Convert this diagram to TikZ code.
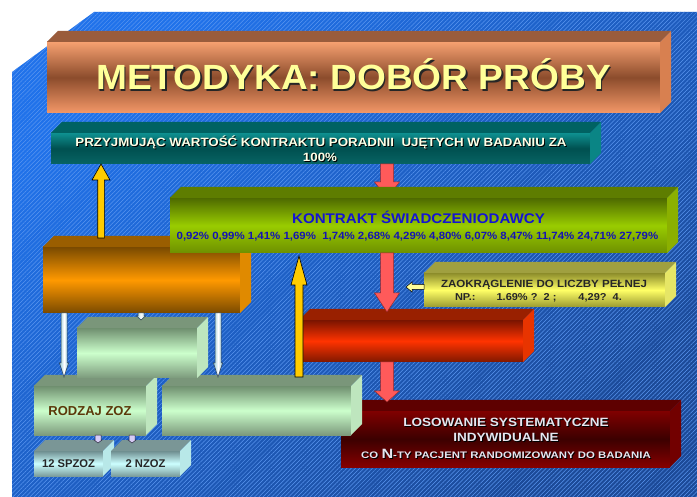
\documentclass[tikz,border=0pt]{standalone}
\usepackage{fontspec}
\setmainfont{Liberation Sans}
\usetikzlibrary{calc,fit,patterns.meta}
\definecolor{bgblue}{HTML}{2072EA}
\definecolor{bgdark}{HTML}{1C4A98}
\definecolor{hatch}{HTML}{5A96F0}
\definecolor{titleyel}{HTML}{FFFF99}
% title
\definecolor{tiTop}{HTML}{9A5C3C}\definecolor{tiSide}{HTML}{D88050}
\definecolor{tiA}{HTML}{F6A070}\definecolor{tiB}{HTML}{F49868}\definecolor{tiM}{HTML}{8C4C2C}
% teal
\definecolor{teTop}{HTML}{006262}\definecolor{teSide}{HTML}{0A8585}
\definecolor{teA}{HTML}{0E9090}\definecolor{teB}{HTML}{086464}\definecolor{teM}{HTML}{005050}
% orange
\definecolor{orTop}{HTML}{9A5E00}\definecolor{orSide}{HTML}{E08A00}
\definecolor{orA}{HTML}{7A4A00}\definecolor{orM}{HTML}{FF9900}
% green
\definecolor{grTop}{HTML}{5E7D00}\definecolor{grSide}{HTML}{8BB000}
\definecolor{grA}{HTML}{4E6A00}\definecolor{grB}{HTML}{6E9000}\definecolor{grM}{HTML}{99CC00}
% yellow
\definecolor{yeTop}{HTML}{A0A040}\definecolor{yeSide}{HTML}{E6E666}
\definecolor{yeA}{HTML}{8C8C2A}\definecolor{yeB}{HTML}{9A9A30}\definecolor{yeM}{HTML}{FFFF66}
% red
\definecolor{reTop}{HTML}{992000}\definecolor{reSide}{HTML}{E83400}
\definecolor{reA}{HTML}{7A1400}\definecolor{reB}{HTML}{801800}\definecolor{reM}{HTML}{FF3300}
% dark red
\definecolor{drTop}{HTML}{5E0000}\definecolor{drSide}{HTML}{720000}
\definecolor{drA}{HTML}{800000}\definecolor{drB}{HTML}{850000}\definecolor{drM}{HTML}{3C0000}
% light green
\definecolor{lgTop}{HTML}{7A967A}\definecolor{lgSide}{HTML}{BEE6BE}
\definecolor{lgA}{HTML}{6F8F6F}\definecolor{lgB}{HTML}{7C9A7C}\definecolor{lgM}{HTML}{CCFFCC}
% cyan small
\definecolor{cyTop}{HTML}{7A9696}\definecolor{cySide}{HTML}{B8E8E8}
\definecolor{cyA}{HTML}{6E8E90}\definecolor{cyB}{HTML}{7A9C9C}\definecolor{cyM}{HTML}{CCFFFF}
% texts and arrows
\definecolor{paleT}{HTML}{FFFFE6}
\definecolor{losT}{HTML}{E6E6F0}
\definecolor{kBlue}{HTML}{1414D2}
\definecolor{pBlue}{HTML}{1414B4}
\definecolor{rodzC}{HTML}{5C380A}
\definecolor{arY}{HTML}{FFCC00}
\definecolor{arR}{HTML}{FF5A5A}
\definecolor{arRd}{HTML}{962828}
\definecolor{arW}{HTML}{96C8D7}
\definecolor{arWd}{HTML}{283C50}
\definecolor{arL}{HTML}{D7CDF5}
\definecolor{arLd}{HTML}{28283C}
% text with a drop shadow, in one box
\newcommand\shd[3]{\makebox[0pt][l]{\hspace{#2}\raisebox{-#2}{\textcolor{#1}{#3}}}#3}
\newcommand\slab[6]{%
  \node[fit={(#2) (#3)}, inner sep=0pt, outer sep=0pt, #6] (#1) {};
  \fill[#4] (#1.north west) -- ++(11,-11) -- ([shift={(11,-11)}]#1.north east) -- (#1.north east) -- cycle;
  \fill[#5] (#1.north east) -- ++(11,-11) -- ([shift={(11,-11)}]#1.south east) -- (#1.south east) -- cycle;
}
\newcommand\vfat[6]{%
  \path[#6] let \p1=(#1), \p2=(#2), \n1={ifthenelse(\y2>\y1,1,-1)} in
   ({\x1-#3pt},\y1) -- ({\x1-#3pt},{\y2-\n1*#5pt}) -- ({\x1-#4pt},{\y2-\n1*#5pt}) -- (\x1,\y2)
   -- ({\x1+#4pt},{\y2-\n1*#5pt}) -- ({\x1+#3pt},{\y2-\n1*#5pt}) -- ({\x1+#3pt},\y1) -- cycle;}
\newcommand\hfat[6]{%
  \path[#6] let \p1=(#1), \p2=(#2), \n1={ifthenelse(\x2>\x1,1,-1)} in
   (\x1,{\y1-#3pt}) -- ({\x2-\n1*#5pt},{\y1-#3pt}) -- ({\x2-\n1*#5pt},{\y1-#4pt}) -- (\x2,\y1)
   -- ({\x2-\n1*#5pt},{\y1+#4pt}) -- ({\x2-\n1*#5pt},{\y1+#3pt}) -- (\x1,{\y1+#3pt}) -- cycle;}
\tikzset{
  txt/.style={inner sep=0pt, outer sep=0pt, anchor=base},
  fs/.style n args={2}{font=\bfseries\fontsize{#1}{#1}\selectfont\addfontfeatures{FakeStretch=#2}},
  yarrow/.style={fill=arY, draw=black, line width=0.6pt},
  rarrow/.style={fill=arR, draw=arRd, line width=0.5pt},
  warrow/.style={left color=arW, right color=arW, middle color=white, draw=arWd, line width=0.5pt},
  larrow/.style={fill=arL, draw=arLd, line width=0.5pt},
  harrow/.style={fill=titleyel, draw=black, line width=0.5pt},
  lgface/.style={top color=lgA, bottom color=lgB, middle color=lgM},
  cyface/.style={top color=cyA, bottom color=cyB, middle color=cyM},
}
\begin{document}
\begin{tikzpicture}[x=1pt,y=-1pt]
\fill[white] (0,0) rectangle (697,497);
\useasboundingbox (0,0) rectangle (697,497);
% blue background with fine hatching
\path[top color=bgblue, middle color=bgblue, bottom color=bgdark, shading angle=40,
      postaction={pattern={Lines[angle=45,distance=3pt,line width=0.5pt]}, pattern color=hatch}]
  (94,12) -- (697,12) -- (697,497) -- (12,497) -- (12,72) -- cycle;

% title
\slab{title}{47,42}{660,113}{tiTop}{tiSide}{top color=tiA, bottom color=tiB, middle color=tiM}
\node[txt, fs={35}{1.06}, text=titleyel] (ttl) at (353.5,90) {\shd{black!85}{1.5pt}{METODYKA: DOBÓR PRÓBY}};

% teal
\slab{teal}{51,133}{590,164}{teTop}{teSide}{top color=teA, bottom color=teB, middle color=teM}
\node[txt, fs={12}{1.11}, text=paleT] (tealT1) at (321,147) {\shd{black}{1pt}{PRZYJMUJĄC WARTOŚĆ KONTRAKTU PORADNII\ \ UJĘTYCH W BADANIU ZA}};
\node[txt, fs={12}{1.11}, text=paleT] (tealT2) at (320,162) {\shd{black}{1pt}{100\%}};

% red arrow teal -> green (tip hidden by green)
\vfat{[xshift=336pt]teal.south west}{[xshift=336pt,yshift=-34pt]teal.south west}{6.5}{12.5}{16}{rarrow}

% orange
\slab{orange}{43,247}{240,313}{orTop}{orSide}{top color=orA, bottom color=orA, middle color=orM}

% green
\slab{green}{170,198}{667,253}{grTop}{grSide}{top color=grA, bottom color=grB, middle color=grM}
\node[txt, fs={14}{1.08}, text=kBlue] (kontr) at (418.5,223.5) {KONTRAKT ŚWIADCZENIODAWCY};
\node[txt, fs={10.5}{1.09}, text=pBlue] (perc) at (417.5,240) {0,92\% 0,99\% 1,41\% 1,69\%\ \ 1,74\% 2,68\% 4,29\% 4,80\% 6,07\% 8,47\% 11,74\% 24,71\% 27,79\%};

% yellow arrow orange -> teal
\vfat{[xshift=58pt,yshift=9pt]orange.north west}{[xshift=50pt]teal.south west}{3.3}{9}{16}{yarrow}

% yellow note box
\slab{note}{424,273}{665,307}{yeTop}{yeSide}{top color=yeA, bottom color=yeB, middle color=yeM}
\node[txt, fs={10.5}{1.1}, text=black!85] (noteA) at (544,288) {ZAOKRĄGLENIE DO LICZBY PEŁNEJ};
\node[txt, fs={10}{1.1}, anchor=base west, text=black!85] (noteB) at (455,301) {NP.:\hspace{21pt}1.69\% ?\ \ 2 ;\hspace{22pt}4,29?\ \ 4.};
\hfat{[yshift=-14pt]note.north west}{[xshift=-18pt,yshift=-14pt]note.north west}{2.5}{5}{6}{harrow}

% red box
\slab{redb}{299,320}{523,362}{reTop}{reSide}{top color=reA, bottom color=reB, middle color=reM}
\vfat{[xshift=217pt]green.south west}{[xshift=88pt,yshift=8pt]redb.north west}{6.5}{12.5}{19}{rarrow}

% dark red box
\slab{dred}{341,411}{670,467}{drTop}{drSide}{top color=drA, bottom color=drB, middle color=drM}
\node[txt, fs={12}{1.13}, text=losT] (los1) at (506,426.5) {\shd{black}{1pt}{LOSOWANIE SYSTEMATYCZNE}};
\node[txt, fs={12}{1.13}, text=losT] (los2) at (506,441.5) {\shd{black}{1pt}{INDYWIDUALNE}};
\node[txt, fs={9.5}{1.2}, text=losT] (los3) at (506,458) {\shd{black}{1pt}{CO {\fontsize{13.5}{13.5}\selectfont N}-TY PACJENT RANDOMIZOWANY DO BADANIA}};
\vfat{[xshift=88pt]redb.south west}{[xshift=46pt,yshift=9pt]dred.north west}{6.5}{12.5}{11}{rarrow}

% RODZAJ ZOZ
\slab{rodzaj}{34,386}{146,435}{lgTop}{lgSide}{lgface}
\node[txt, fs={13}{1}, text=rodzC] (rodzT) at (90,415) {RODZAJ ZOZ};

% second light-green box
\slab{gbox}{162,386}{351,435}{lgTop}{lgSide}{lgface}

% first light-green box
\slab{lgreen}{77,328}{197,378}{lgTop}{lgSide}{lgface}

% white arrows
\vfat{[xshift=21pt]orange.south west}{[xshift=30pt,yshift=9pt]rodzaj.north west}{3}{4.5}{14}{warrow}
\vfat{[xshift=98pt]orange.south west}{[xshift=64pt,yshift=8pt]lgreen.north west}{3}{4.5}{4}{warrow}
\vfat{[xshift=175pt]orange.south west}{[xshift=56pt,yshift=9pt]gbox.north west}{3}{4.5}{14}{warrow}

% yellow arrow gbox -> green
\vfat{[xshift=137pt,yshift=9pt]gbox.north west}{[xshift=129pt,yshift=-3pt]green.south west}{4}{8}{29}{yarrow}

% small boxes
\slab{spzoz}{34,451}{103,476}{cyTop}{cySide}{cyface}
\slab{nzoz}{111,451}{180,476}{cyTop}{cySide}{cyface}
\node[txt, fs={11.2}{1}, text=black!85] (spzT) at (68.5,467.5) {12 SPZOZ};
\node[txt, fs={11.2}{1}, text=black!85] (nzT) at (145.5,467.5) {2 NZOZ};

% lavender arrows
\vfat{[xshift=64pt]rodzaj.south west}{[xshift=64pt,yshift=8pt]spzoz.north west}{3}{4}{3}{larrow}
\vfat{[xshift=98pt]rodzaj.south west}{[xshift=21pt,yshift=8pt]nzoz.north west}{3}{4}{3}{larrow}
\end{tikzpicture}
\end{document}
